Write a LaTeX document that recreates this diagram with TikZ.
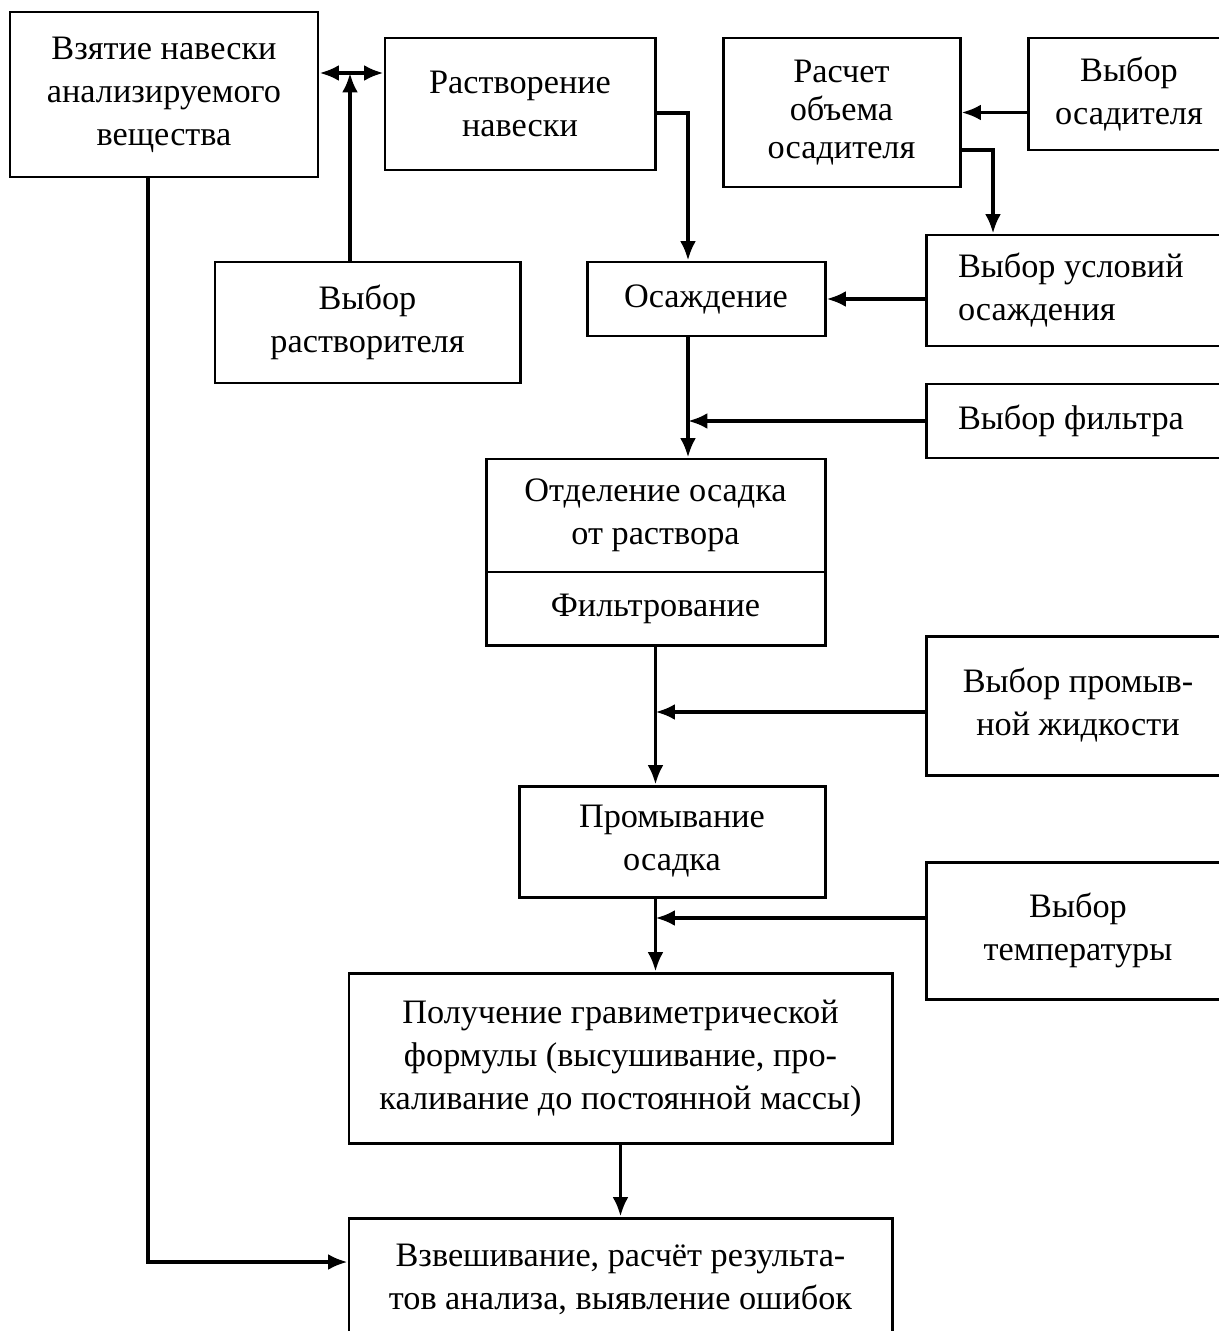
\documentclass[tikz,border=0pt]{standalone}
\usepackage{fontspec}
\setmainfont{Liberation Serif}
\usepackage{tikz}
\usetikzlibrary{positioning}
\usetikzlibrary{arrows.meta}
\tikzstyle{block} = [draw, line width=1.7pt, align=center, inner sep=2pt, font=\fontsize{19.5}{24.5}\selectfont]
\tikzstyle{choice} = [block, text width=4.8cm, align=flush left]
\tikzstyle{line} = [draw, line width=2pt, -{Latex[length=11pt,width=9pt]}]

\begin{document}
\begin{tikzpicture}
			\useasboundingbox (0,0) rectangle (24.36,-26.62);
			% main column
			\node[block, minimum width=61.6mm, minimum height=33mm] at (3.28,-1.89) (take) {Взятие навески\\анализируемого\\вещества};
			\node[block, minimum width=54mm, minimum height=26.4mm] at (10.40,-2.08) (diss) {Растворение\\навески};
			\node[block, minimum width=47.4mm, minimum height=29.8mm, font=\fontsize{19.5}{21.5}\selectfont] at (16.83,-2.25) (calc) {Расчет\\объема\\осадителя};
			\node[block, minimum width=40.4mm, minimum height=22.4mm] at (22.58,-1.88) (prc) {Выбор\\осадителя};
			\node[block, minimum width=61mm, minimum height=24.2mm] at (7.35,-6.45) (solv) {Выбор\\растворителя};
			\node[block, minimum width=47.6mm, minimum height=14.8mm] at (14.12,-5.98) (prec) {Осаждение};
			\node[choice, minimum width=60.8mm, minimum height=22.2mm] at (21.56,-5.81) (cond) {Выбор условий\\осаждения};
			\node[choice, minimum width=60.8mm, minimum height=14.8mm] at (21.56,-8.42) (filt) {Выбор фильтра};
			\node[block, minimum width=67.8mm, minimum height=22.6mm] at (13.11,-10.31) (sep) {Отделение осадка\\от раствора};
			\node[block, minimum width=67.8mm, minimum height=14.6mm, below=-\pgflinewidth of sep] (filtr) {Фильтрование};
			\node[block, minimum width=60.8mm, minimum height=27.8mm] at (21.56,-14.11) (liq) {Выбор промыв-\\ной жидкости};
			\node[block, minimum width=61.2mm, minimum height=22.2mm] at (13.44,-16.83) (wash) {Промывание\\осадка};
			\node[block, minimum width=60.8mm, minimum height=27.4mm] at (21.56,-18.61) (temp) {Выбор\\температуры};
			\node[block, minimum width=108.6mm, minimum height=34mm] at (12.41,-21.16) (grav) {Получение гравиметрической\\формулы (высушивание, про-\\каливание до постоянной массы)};
			\node[block, minimum width=108.6mm, minimum height=24.4mm] at (12.41,-25.58) (weigh) {Взвешивание, расчёт результа-\\тов анализа, выявление ошибок};
			
			% bends
			\coordinate (jn) at (7.00,-1.46);
			\coordinate (b1) at (13.76,-2.26);
			\coordinate (b2) at (19.86,-3.00);
			\coordinate (b4) at (2.96,-25.24);
			
			\draw [line, {Latex[length=11pt,width=9pt]}-{Latex[length=11pt,width=9pt]}] (take.east |- jn) -- (diss.west |- jn);
			\draw [line] (solv.north -| jn) -- (jn);
			\draw [line] (diss.east |- b1) -| (prec.north -| b1);
			\draw [line] (prc.west |- calc.east) -- (calc.east);
			\draw [line] (calc.east |- b2) -| (cond.north -| b2);
			\draw [line] (cond.west |- prec.east) -- (prec.east);
			\draw [line] (prec.south -| b1) -- (sep.north -| b1);
			\draw [line] (filt.west) -- (filt.west -| b1);
			\draw [line] (filtr.south) -- (wash.north -| filtr.south);
			\draw [line] ([yshift=-0.13cm]liq.west) -- ([yshift=-0.13cm]liq.west -| filtr.south);
			\draw [line] (wash.south -| filtr.south) -- (grav.north -| filtr.south);
			\draw [line] ([yshift=0.25cm]temp.west) -- ([yshift=0.25cm]temp.west -| filtr.south);
			\draw [line] (grav.south) -- (weigh.north);
			\draw [line] (take.south -| b4) |- (weigh.west |- b4);
			
		\end{tikzpicture}
\end{document}
